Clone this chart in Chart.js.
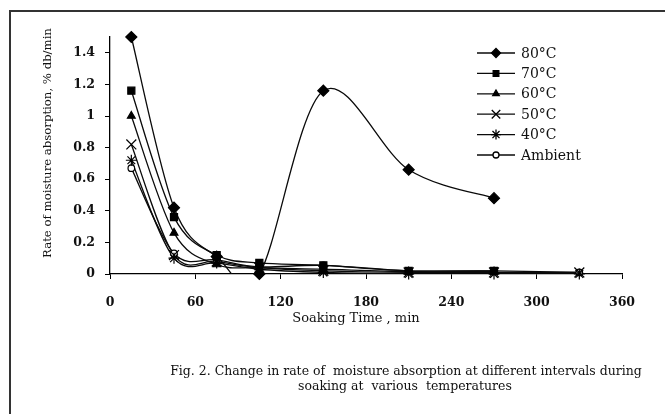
<!DOCTYPE html>
<html>
<head>
<meta charset="utf-8">
<script src="https://cdn.jsdelivr.net/npm/chart.js@4.4.0/dist/chart.umd.min.js"></script>
<style>
  html, body { margin: 0; padding: 0; background: #fff; }
  #wrap { position: relative; width: 665px; height: 414px; overflow: hidden; }
  #frame { position: absolute; left: 9px; top: 10px; right: 0; bottom: 0; border-top: 2px solid #333; border-left: 2px solid #333; }
  canvas { position: absolute; left: 0; top: 0; }
</style>
</head>
<body>
<div id="wrap">
  <div id="frame"></div>
  <canvas id="moistureChart" width="665" height="414"></canvas>
</div>
<script>
// soaking time (min) and rate of moisture absorption (% db/min)
const soakTimes = [15, 45, 75, 105, 150, 210, 270, 330];
const seriesNames = ['80°C', '70°C', '60°C', '50°C', '40°C', 'Ambient'];
const rate80 = [1.50, 0.42, 0.11, 0.00, 1.16, 0.66, 0.48];
const rate70 = [1.16, 0.36, 0.12, 0.07, 0.055, 0.02, 0.02];
const rate60 = [1.00, 0.26, 0.06, 0.04, 0.03, 0.015, 0.015];
const rate50 = [0.82, 0.12, 0.08, 0.04, 0.02, 0.01, 0.01, 0.01];
const rate40 = [0.72, 0.10, 0.07, 0.03, 0.01, 0.00, 0.00, 0.00];
const rateAmbient = [0.67, 0.13, 0.09, 0.045, 0.055, 0.02, 0.02, 0.01];
const xTicks = [0, 60, 120, 180, 240, 300, 360];
const yTicks = [0, 0.2, 0.4, 0.6, 0.8, 1, 1.2, 1.4];
const yTitle = 'Rate of moisture absorption, % db/min';
const xTitle = 'Soaking Time , min';
const caption = ['Fig. 2. Change in rate of  moisture absorption at different intervals during',
                 'soaking at  various  temperatures'];

const serif = "'DejaVu Serif', 'Liberation Serif', serif";

// marker look for each series (plot radius, legend radius)
const markers = [
  { style: 'rectRot',  r: 5.5, lr: 4.5, fill: '#000' },
  { style: 'rect',     r: 5,   lr: 4,   fill: '#000' },
  { style: 'triangle', r: 4.5, lr: 3.8, fill: '#000' },
  { style: 'crossRot', r: 7,   lr: 6,   fill: '#000' },
  { style: 'star',     r: 5.5, lr: 5,   fill: '#000' },
  { style: 'circle',   r: 3.3, lr: 3,   fill: '#fff' }
];

const allRates = [rate80, rate70, rate60, rate50, rate40, rateAmbient];

// lines are clipped at the x axis like the spreadsheet plot, markers are not,
// so every series is a line-only dataset plus a marker-only dataset
const lineSets = allRates.map((vals, i) => ({
  label: seriesNames[i],
  data: vals.map((v, j) => ({ x: soakTimes[j], y: v })),
  borderColor: '#0a0a0a',
  borderWidth: 1.3,
  tension: 0.4,
  pointRadius: 0,
  order: 1,
  clip: { left: 5, top: 5, right: 5, bottom: 0 }
}));
const markerSets = allRates.map((vals, i) => ({
  label: seriesNames[i] + ' markers',
  data: vals.map((v, j) => ({ x: soakTimes[j], y: v })),
  showLine: false,
  pointStyle: markers[i].style,
  pointRadius: markers[i].r,
  pointBackgroundColor: markers[i].fill,
  pointBorderColor: '#000',
  pointBorderWidth: 1.2,
  order: 0,
  clip: false
}));

// spreadsheet-style smoothing: control points at 1/6 of the neighbour chord
const excelSmooth = {
  id: 'excelSmooth',
  beforeDatasetDraw(chart, args) {
    const meta = args.meta;
    if (meta.dataset === undefined || meta.type !== 'line') return;
    const pts = meta.data;
    const n = pts.length;
    for (let i = 0; i < n; i++) {
      const p = pts[i];
      const prev = pts[Math.max(i - 1, 0)];
      const next = pts[Math.min(i + 1, n - 1)];
      const dx = (next.x - prev.x) / 6;
      const dy = (next.y - prev.y) / 6;
      p.cp1x = p.x - dx; p.cp1y = p.y - dy;
      p.cp2x = p.x + dx; p.cp2y = p.y + dy;
    }
    meta.dataset._pointsUpdated = true;
  }
};

// legend + axis titles + caption drawn as canvas text
const figText = {
  id: 'figText',
  afterDraw(chart) {
    const ctx = chart.ctx;
    ctx.save();
    ctx.fillStyle = '#111';
    ctx.strokeStyle = '#111';

    // legend
    ctx.font = '14px ' + serif;
    ctx.textAlign = 'left';
    ctx.textBaseline = 'middle';
    seriesNames.forEach((name, i) => {
      const y = 53 + i * 20.4;
      ctx.lineWidth = 1.3;
      ctx.strokeStyle = '#0a0a0a';
      ctx.beginPath();
      ctx.moveTo(477, y);
      ctx.lineTo(515, y);
      ctx.stroke();
      ctx.fillStyle = markers[i].fill;
      ctx.strokeStyle = '#000';
      Chart.helpers.drawPoint(ctx, { pointStyle: markers[i].style, radius: markers[i].lr, borderWidth: 1.2 }, 496, y);
      ctx.fillStyle = '#111';
      ctx.fillText(name, 521, y + 1);
    });

    // y axis title
    ctx.save();
    ctx.font = '11.7px ' + serif;
    ctx.textAlign = 'center';
    ctx.translate(48, 143);
    ctx.rotate(-Math.PI / 2);
    ctx.fillText(yTitle, 0, 0);
    ctx.restore();

    // x axis title
    ctx.font = '13px ' + serif;
    ctx.textAlign = 'center';
    ctx.fillText(xTitle, 356, 319);

    // caption
    ctx.font = '12.5px ' + serif;
    ctx.fillText(caption[0], 406, 372);
    ctx.fillText(caption[1], 405, 387);
    ctx.restore();
  }
};

const ctx = document.getElementById('moistureChart').getContext('2d');
new Chart(ctx, {
  type: 'line',
  data: { datasets: markerSets.concat(lineSets) },
  plugins: [excelSmooth, figText],
  options: {
    responsive: false,
    animation: false,
    devicePixelRatio: 1,
    layout: { padding: { left: 40, right: 43, top: 37, bottom: 88 } },
    plugins: {
      legend: { display: false },
      tooltip: { enabled: false }
    },
    scales: {
      x: {
        type: 'linear',
        min: 0,
        max: 360,
        afterBuildTicks: s => { s.ticks = xTicks.map(v => ({ value: v })); },
        afterFit: s => { s.height = 52; },
        grid: { drawOnChartArea: false, tickLength: 5, color: '#000' },
        border: { color: '#000', width: 1.3 },
        ticks: {
          color: '#111',
          padding: 16,
          maxRotation: 0,
          font: { family: serif, size: 12.5, weight: 'bold' },
          callback: v => String(v)
        }
      },
      y: {
        min: 0,
        max: 1.5,
        afterBuildTicks: s => { s.ticks = yTicks.map(v => ({ value: v })); },
        afterFit: s => { s.width = 70; },
        grid: { drawOnChartArea: false, tickLength: 5, color: '#000' },
        border: { color: '#000', width: 1.3 },
        ticks: {
          color: '#111',
          padding: 10,
          font: { family: serif, size: 12.5, weight: 'bold' },
          callback: v => String(v)
        }
      }
    }
  }
});
</script>
</body>
</html>
